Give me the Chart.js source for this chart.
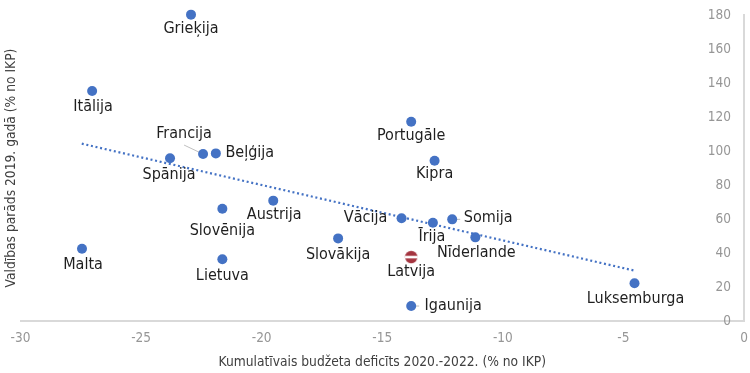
<!DOCTYPE html>
<html><head><meta charset="utf-8">
<style>html,body{margin:0;padding:0;background:#fff}#w{width:750px;height:373px;position:relative}canvas{display:block}</style>
<script src="https://cdn.jsdelivr.net/npm/chart.js@4/dist/chart.umd.min.js"></script>
</head><body><div id="w"><canvas id="c" width="750" height="373"></canvas></div>
<script>
const countries=["Grieķija","Itālija","Francija","Beļģija","Spānija","Portugāle","Kipra","Vācija","Īrija","Somija","Nīderlande","Latvija","Igaunija","Luksemburga","Malta","Slovēnija","Austrija","Slovākija","Lietuva"];
const deficit=[-22.93,-27.03,-22.43,-21.9,-23.8,-13.8,-12.83,-14.2,-12.9,-12.1,-11.14,-13.8,-13.8,-4.54,-27.45,-21.63,-19.52,-16.83,-21.63];
const debt=[180.2,135.3,98.2,98.6,95.7,117.2,94.3,60.4,57.8,59.8,49.2,37.6,8.8,22.2,42.5,66,70.8,48.6,36.3];
const trendX=[-27.46,-4.53];
const trendY=[104.3,29.6];
const xTicks=[-30,-25,-20,-15,-10,-5,0];
const yTicks=[0,20,40,60,80,100,120,140,160,180];
const labelOffsets={"Grieķija":[0,14],"Itālija":[1,16],"Francija":[-19,-20],"Beļģija":[34,-1],"Spānija":[-1,17],"Portugāle":[0,14],"Kipra":[0,13],"Vācija":[-36,0],"Īrija":[-1,14],"Somija":[36,-1],"Nīderlande":[1,15],"Latvija":[0,15],"Igaunija":[42,0],"Luksemburga":[1,16],"Malta":[1,16],"Slovēnija":[0,22],"Austrija":[1,14],"Slovākija":[0,16],"Lietuva":[0,17]};
const leaders={"Francija":[-19,-9],"Somija":[8,0],"Igaunija":[8,0]};
const FONT='"DejaVu Sans Condensed","DejaVu Sans",sans-serif';
function noPad(a){a.paddingTop=a.paddingBottom=a.paddingLeft=a.paddingRight=0;}
function flag(){const s=document.createElement('canvas');s.width=s.height=14;const g=s.getContext('2d');
 g.beginPath();g.arc(7,7,6.2,0,Math.PI*2);g.clip();g.fillStyle='#a4343f';g.fillRect(0,0,14,14);g.fillStyle='#fff';g.fillRect(0,5.7,14,2.6);return s;}
const styles=countries.map(n=>n==="Latvija"?flag():'circle');
const labels={id:'labels',
 beforeDatasetsDraw(ch){const g=ch.ctx,xs=ch.scales.x,ys=ch.scales.y;g.save();g.strokeStyle='#bfbfbf';g.lineWidth=1;
  Object.keys(leaders).forEach(n=>{const i=countries.indexOf(n),l=leaders[n];const fx=xs.getPixelForValue(deficit[i]),fy=ys.getPixelForValue(debt[i]);g.beginPath();g.moveTo(fx+l[0],fy+l[1]);g.lineTo(fx,fy);g.stroke();});g.restore();},
 afterDatasetsDraw(ch){const g=ch.ctx,xs=ch.scales.x,ys=ch.scales.y;g.save();g.font='16px '+FONT;g.fillStyle='#1f1f1f';g.textAlign='center';g.textBaseline='middle';
 countries.forEach((n,i)=>{const o=labelOffsets[n];const px=xs.getPixelForValue(deficit[i]),py=ys.getPixelForValue(debt[i]);g.fillText(n,px+o[0],py+o[1]);});g.restore();}};
new Chart(document.getElementById('c'),{type:'scatter',plugins:[labels],
 data:{datasets:[
 {data:countries.map((n,i)=>({x:deficit[i],y:debt[i]})),pointStyle:styles,pointRadius:5,pointHoverRadius:5,backgroundColor:'#4472c4',borderColor:'#4472c4',borderWidth:0,order:1,clip:false},
 {type:'line',data:trendX.map((x,i)=>({x,y:trendY[i]})),borderColor:'#4472c4',borderWidth:2.2,borderDash:[2,2.7],pointRadius:0,fill:false,order:2}]},
 options:{responsive:false,animation:false,layout:{autoPadding:false,padding:{left:0,right:6,top:15,bottom:0}},
 plugins:{legend:{display:false},tooltip:{enabled:false}},
 scales:{
  x:{type:'linear',min:-30,max:0,grid:{display:false,drawTicks:false},border:{color:'#d9d9d9',width:2},
   afterBuildTicks(a){a.ticks=xTicks.map(v=>({value:v}));},afterFit(a){a.height=52;noPad(a);},
   ticks:{color:'#969696',font:{family:FONT,size:13.5},padding:9,maxRotation:0,includeBounds:true},
   title:{display:true,text:'Kumulatīvais budžeta deficīts 2020.-2022. (% no IKP)',color:'#404040',font:{family:FONT,size:13.7},padding:{top:5,bottom:2}}},
  y:{type:'linear',position:'right',min:0,max:180,grid:{display:false,drawTicks:false},border:{color:'#d9d9d9',width:2},
   afterBuildTicks(a){a.ticks=yTicks.map(v=>({value:v}));},afterFit(a){a.width=0;noPad(a);},
   ticks:{mirror:true,color:'#969696',font:{family:FONT,size:13.5},padding:-13}},
  t:{type:'linear',position:'left',min:0,max:1,grid:{display:false},border:{display:false},ticks:{display:false},afterFit(a){a.width=20.5;noPad(a);},
   title:{display:true,text:'Valdības parāds 2019. gadā (% no IKP)',color:'#404040',font:{family:FONT,size:13.7},padding:{top:3,bottom:0}}}
 }}});
</script></body></html>
